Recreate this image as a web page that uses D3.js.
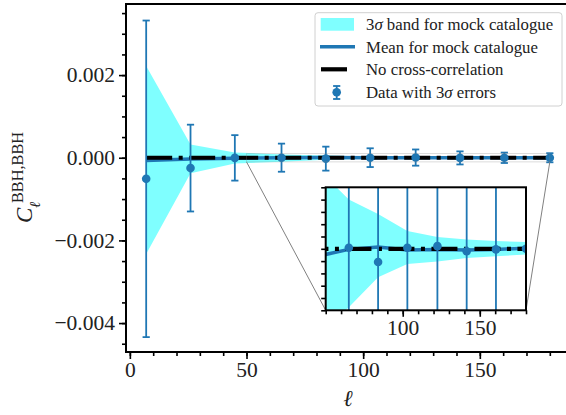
<!DOCTYPE html>
<html>
<head>
<meta charset="utf-8">
<script src="https://cdn.jsdelivr.net/npm/d3@7"></script>
<style>
  body { margin: 0; background: #fff; }
  svg { display: block; font-family: "Liberation Serif", "DejaVu Serif", serif; }
</style>
</head>
<body>
<svg id="chart" width="566" height="415"></svg>
<script>
// multipole bins
const ell = [7, 26, 45, 65, 84, 103, 122.5, 141.5, 160.5, 180];
// mean of mock catalogue
const meanMock = [-0.000065, -0.00003, -0.000012, -0.000001, 0.000003, -0.000002, -0.000001, -0.000002, -0.000001, 0.000001];
// 3 sigma band edges
const bandUpper = [0.00222, 0.000323, 0.00013, 0.00008, 0.0000566, 0.000029, 0.000019, 0.0000153, 0.0000125, 0.0000109];
const bandLower = [-0.00233, -0.000374, -0.00014, -0.000095, -0.0000462, -0.0000248, -0.0000205, -0.0000149, -0.0000122, -0.0000094];
// measured cross-correlation with 3 sigma errors
const dataCl = [-0.00051, -0.00025, -0.000003, 0.0000017, -0.0000215, 0.0000017, 0.0000043, -0.000004, -0.000001, 0.0];
const dataErr = [0.00383, 0.00105, 0.00055, 0.00034, 0.00029, 0.000227, 0.000196, 0.000158, 0.000126, 0.00011];

const mainXTicks = [0, 50, 100, 150];
const mainXMinor = d3.range(0, 190, 10);
const mainYTicks = [-0.004, -0.002, 0, 0.002];
const mainYMinor = d3.range(-0.0045, 0.0036, 0.0005);
const insetXTicks = [100, 150];
const insetXMinor = d3.range(50, 181, 10);
const insetYMinor = d3.range(-0.0001, 0.000101, 0.00002);
const legendLabels = ["band for mock catalogue", "Mean for mock catalogue", "No cross-correlation", "errors"];

const blue = "#1f77b4";
const svg = d3.select("#chart");

const x = d3.scaleLinear().domain([-1.65, 188.65]).range([126, 570]);
const y = d3.scaleLinear().domain([-0.0047, 0.00372]).range([352, 4]);

const xi = d3.scaleLinear().domain([50, 180]).range([325.7, 526]);
const yi = d3.scaleLinear().domain([-0.0001, 0.0001]).range([310.3, 187.3]);

const fmt = v => d3.format(".3f")(v).replace("-", "\u2212");

const defs = svg.append("defs");
defs.append("clipPath").attr("id", "clipMain")
  .append("rect").attr("x", 126).attr("y", 4).attr("width", 444).attr("height", 348);
defs.append("clipPath").attr("id", "clipInset")
  .append("rect").attr("x", xi.range()[0]).attr("y", yi.range()[1])
  .attr("width", xi.range()[1] - xi.range()[0]).attr("height", yi.range()[0] - yi.range()[1]);

function drawSeries(g, sx, sy, capHalf) {
  const idx = d3.range(ell.length);

  g.append("path")
    .datum(idx)
    .attr("fill", "cyan")
    .attr("fill-opacity", 0.5)
    .attr("d", d3.area().x(i => sx(ell[i])).y0(i => sy(bandLower[i])).y1(i => sy(bandUpper[i])));

  g.append("path")
    .datum(idx)
    .attr("fill", "none")
    .attr("stroke", blue)
    .attr("stroke-width", 3.5)
    .attr("d", d3.line().x(i => sx(ell[i])).y(i => sy(meanMock[i])));

  g.append("line")
    .attr("x1", sx(ell[0])).attr("x2", sx(ell[ell.length - 1]))
    .attr("y1", sy(0)).attr("y2", sy(0))
    .attr("stroke", "#000")
    .attr("stroke-width", 4.2)
    .attr("stroke-dasharray", "26,6.5,4,6.5");

  const eb = g.selectAll(".eb").data(idx).enter().append("g").attr("class", "eb");
  eb.append("line")
    .attr("x1", i => sx(ell[i])).attr("x2", i => sx(ell[i]))
    .attr("y1", i => sy(dataCl[i] - dataErr[i])).attr("y2", i => sy(dataCl[i] + dataErr[i]))
    .attr("stroke", blue).attr("stroke-width", 1.8);
  [-1, 1].forEach(s => {
    eb.append("line")
      .attr("x1", i => sx(ell[i]) - capHalf).attr("x2", i => sx(ell[i]) + capHalf)
      .attr("y1", i => sy(dataCl[i] + s * dataErr[i])).attr("y2", i => sy(dataCl[i] + s * dataErr[i]))
      .attr("stroke", blue).attr("stroke-width", 1.8);
  });
  eb.append("circle")
    .attr("cx", i => sx(ell[i])).attr("cy", i => sy(dataCl[i]))
    .attr("r", 4.3).attr("fill", blue);
}

// main panel
const main = svg.append("g").attr("clip-path", "url(#clipMain)");
drawSeries(main, x, y, 3.6);

// inset indicator and connectors
svg.append("rect")
  .attr("x", x(50)).attr("y", y(0.0001))
  .attr("width", x(180) - x(50)).attr("height", y(-0.0001) - y(0.0001))
  .attr("fill", "none").attr("stroke", "#808080").attr("stroke-opacity", 0.35).attr("stroke-width", 0.8);
svg.append("line")
  .attr("x1", x(50)).attr("y1", y(-0.0001)).attr("x2", xi(50)).attr("y2", yi(-0.0001))
  .attr("stroke", "#808080").attr("stroke-width", 1);
svg.append("line")
  .attr("x1", x(180)).attr("y1", y(-0.0001)).attr("x2", xi(180)).attr("y2", yi(-0.0001))
  .attr("stroke", "#808080").attr("stroke-width", 1);

// main axes
const yMinorAxis = svg.append("g").attr("transform", "translate(126,0)")
  .call(d3.axisLeft(y).tickValues(mainYMinor).tickSize(4).tickFormat(""));
const yAxis = svg.append("g").attr("transform", "translate(126,0)")
  .call(d3.axisLeft(y).tickValues(mainYTicks).tickSize(7).tickPadding(4).tickFormat(fmt));
const xMinorAxis = svg.append("g").attr("transform", "translate(0,352)")
  .call(d3.axisBottom(x).tickValues(mainXMinor).tickSize(4).tickFormat(""));
const xAxis = svg.append("g").attr("transform", "translate(0,352)")
  .call(d3.axisBottom(x).tickValues(mainXTicks).tickSize(7).tickPadding(3).tickFormat(d3.format("d")));

[yMinorAxis, yAxis, xMinorAxis, xAxis].forEach(a => {
  a.select(".domain").remove();
  a.selectAll(".tick line").attr("stroke", "#000").attr("stroke-width", 1.6);
  a.selectAll("text").attr("fill", "#222").style("font-size", "21.5px")
    .style("font-family", "'Liberation Serif', serif");
});

// spines
svg.append("path")
  .attr("d", `M570,4H126V352H570`)
  .attr("fill", "none").attr("stroke", "#000").attr("stroke-width", 2);

// inset panel
svg.append("rect")
  .attr("x", xi.range()[0]).attr("y", yi.range()[1])
  .attr("width", xi.range()[1] - xi.range()[0]).attr("height", yi.range()[0] - yi.range()[1])
  .attr("fill", "#fff");
const inset = svg.append("g").attr("clip-path", "url(#clipInset)");
drawSeries(inset, xi, yi, 3.6);

const ixMinor = svg.append("g").attr("transform", `translate(0,${yi.range()[0]})`)
  .call(d3.axisBottom(xi).tickValues(insetXMinor).tickSize(4).tickFormat(""));
const ixAxis = svg.append("g").attr("transform", `translate(0,${yi.range()[0]})`)
  .call(d3.axisBottom(xi).tickValues(insetXTicks).tickSize(6.5).tickPadding(3).tickFormat(d3.format("d")));
const iyMinor = svg.append("g").attr("transform", `translate(${xi.range()[0]},0)`)
  .call(d3.axisLeft(yi).tickValues(insetYMinor).tickSize(4.5).tickFormat(""));
[ixMinor, ixAxis, iyMinor].forEach(a => {
  a.select(".domain").remove();
  a.selectAll(".tick line").attr("stroke", "#000").attr("stroke-width", 1.6);
  a.selectAll("text").attr("fill", "#222").style("font-size", "21.5px")
    .style("font-family", "'Liberation Serif', serif");
});
svg.append("rect")
  .attr("x", xi.range()[0]).attr("y", yi.range()[1])
  .attr("width", xi.range()[1] - xi.range()[0]).attr("height", yi.range()[0] - yi.range()[1])
  .attr("fill", "none").attr("stroke", "#000").attr("stroke-width", 2);

// axis labels
svg.append("text")
  .attr("x", 348).attr("y", 406)
  .attr("text-anchor", "middle")
  .style("font-size", "23px").style("font-style", "italic").attr("fill", "#222")
  .text("\u2113");

const yl = svg.append("g").attr("transform", "translate(32,223) rotate(-90)").attr("fill", "#222");
yl.append("text").attr("x", 0).attr("y", 0)
  .style("font-size", "23px").style("font-style", "italic").text("C");
yl.append("text").attr("x", 15).attr("y", 8)
  .style("font-size", "15px").style("font-style", "italic").text("\u2113");
yl.append("text").attr("x", 20).attr("y", -9.5)
  .style("font-size", "16.3px").text("BBH,BBH");

// legend
const lg = svg.append("g");
lg.append("rect")
  .attr("x", 315).attr("y", 12.7).attr("width", 247).attr("height", 93.3).attr("rx", 3)
  .attr("fill", "#fff").attr("fill-opacity", 0.8)
  .attr("stroke", "#d0d0d0").attr("stroke-width", 1);
lg.append("rect")
  .attr("x", 320.7).attr("y", 18).attr("width", 33.3).attr("height", 12.7)
  .attr("fill", "cyan").attr("fill-opacity", 0.5);
lg.append("line")
  .attr("x1", 320).attr("x2", 355).attr("y1", 46.7).attr("y2", 46.7)
  .attr("stroke", blue).attr("stroke-width", 3.5);
lg.append("line")
  .attr("x1", 321).attr("x2", 347).attr("y1", 69.3).attr("y2", 69.3)
  .attr("stroke", "#000").attr("stroke-width", 4.2);
lg.append("line")
  .attr("x1", 336.7).attr("x2", 336.7).attr("y1", 86).attr("y2", 99)
  .attr("stroke", blue).attr("stroke-width", 1.8);
[86, 99].forEach(cy => {
  lg.append("line")
    .attr("x1", 333.1).attr("x2", 340.3).attr("y1", cy).attr("y2", cy)
    .attr("stroke", blue).attr("stroke-width", 1.8);
});
lg.append("circle").attr("cx", 336.7).attr("cy", 92.3).attr("r", 4.3).attr("fill", blue);

const legendFont = "16.8px";
const rowY = [30, 52.5, 75, 97.5];
const t0 = lg.append("text").attr("x", 366).attr("y", rowY[0]).style("font-size", legendFont).attr("fill", "#222");
t0.append("tspan").text("3");
t0.append("tspan").style("font-style", "italic").text("\u03c3");
t0.append("tspan").text(" " + legendLabels[0]);
lg.append("text").attr("x", 366).attr("y", rowY[1]).style("font-size", legendFont).attr("fill", "#222").text(legendLabels[1]);
lg.append("text").attr("x", 366).attr("y", rowY[2]).style("font-size", legendFont).attr("fill", "#222").text(legendLabels[2]);
const t3 = lg.append("text").attr("x", 366).attr("y", rowY[3]).style("font-size", legendFont).attr("fill", "#222");
t3.append("tspan").text("Data with 3");
t3.append("tspan").style("font-style", "italic").text("\u03c3");
t3.append("tspan").text(" " + legendLabels[3]);
</script>
</body>
</html>
